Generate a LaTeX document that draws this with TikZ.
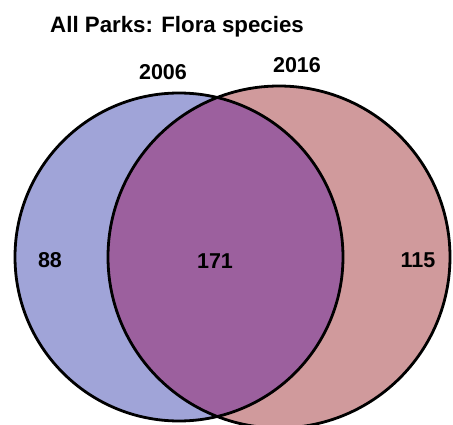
\documentclass[tikz,border=0pt]{standalone}
\usepackage{fontspec}
\setmainfont{Liberation Sans}
\usepackage{xcolor}
\usepackage{tikz}
\usetikzlibrary{positioning}
\definecolor{setBlue}{HTML}{A0A4D8}
\definecolor{setRose}{HTML}{D09A9C}
\definecolor{setPurple}{HTML}{9C609E}

\begin{document}
\begin{tikzpicture}[
    x=1pt,y=-1pt,
    every node/.style={font=\bfseries\fontsize{21.5}{26}\selectfont,inner sep=0pt},
    setline/.style={draw=black,line width=2.8pt},
    ttl/.style={font=\bfseries\fontsize{22.3}{27}\selectfont,anchor=base west},
    yr/.style={anchor=base},
    cnt/.style={anchor=base}
  ]
  \useasboundingbox (0,0) rectangle (453,425);
  %% the two sets and their overlap
  \fill[setBlue] (179,257) circle[radius=164];
  \fill[setRose] (279,257) circle[radius=171];
  \begin{scope}
    \clip (179,257) circle[radius=164];
    \fill[setPurple] (279,257) circle[radius=171];
  \end{scope}
  \draw[setline] (179,257) circle[radius=164];
  \draw[setline] (279,257) circle[radius=171];
  %% title and set names
  \node[ttl] (title) at (50,33) {All Parks: Flora species};
  \node[yr] (old) at (163,80) {2006};
  \node[yr] (new) at (297,73) {2016};
  %% counts
  \node[cnt] (onlyold) at (50,268) {88};
  \node[cnt] (both) at (215,269) {171};
  \node[cnt] (onlynew) at (418,268) {115};
\end{tikzpicture}
\end{document}
